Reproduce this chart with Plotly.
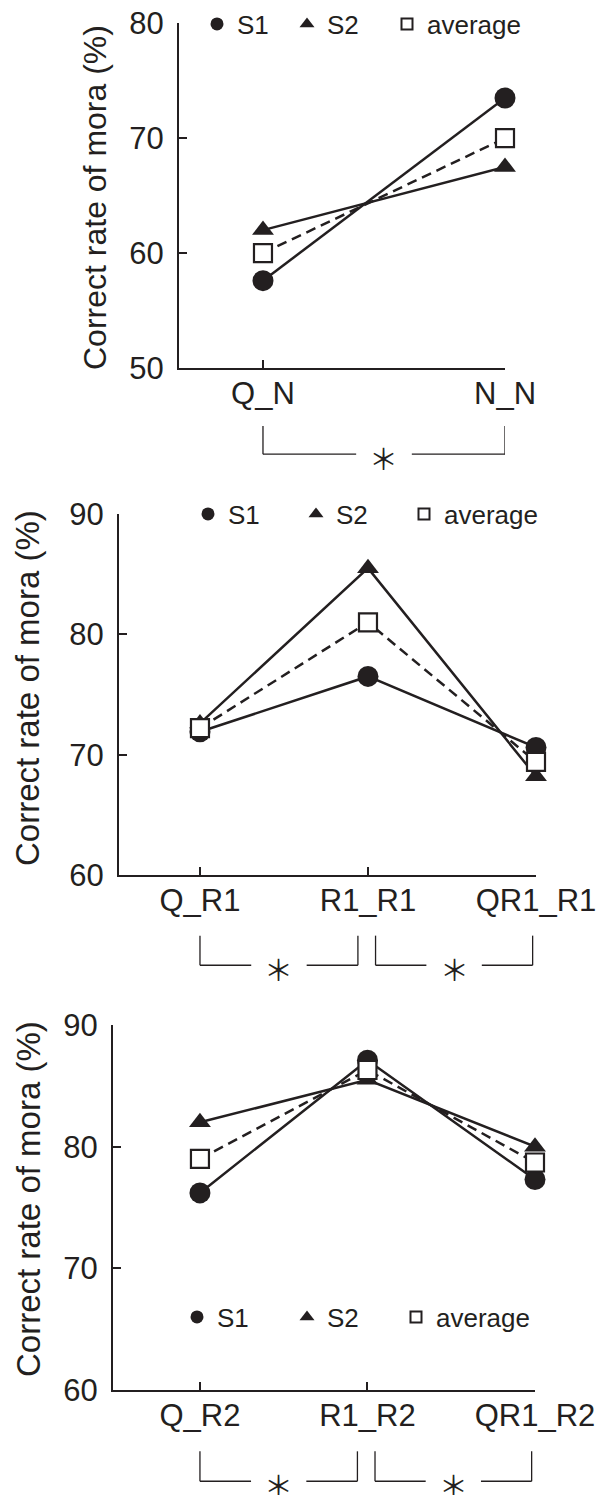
import plotly.graph_objects as go

# ---------------- data ----------------
cats1 = ["Q_N", "N_N"]
s1_p1 = [57.6, 73.5]
s2_p1 = [62.0, 67.5]
avg_p1 = [60.0, 70.0]

cats2 = ["Q_R1", "R1_R1", "QR1_R1"]
s1_p2 = [71.9, 76.5, 70.6]
s2_p2 = [72.6, 85.5, 68.2]
avg_p2 = [72.2, 81.0, 69.4]

cats3 = ["Q_R2", "R1_R2", "QR1_R2"]
s1_p3 = [76.2, 87.1, 77.3]
s2_p3 = [82.0, 85.5, 80.0]
avg_p3 = [79.0, 86.3, 78.7]

yticks_p1 = [50, 60, 70, 80]
yticks_p23 = [60, 70, 80, 90]
series_names = ["S1", "S2", "average"]
sig_p1 = [(0, 1)]
sig_p23 = [(0, 1), (1, 2)]
ytitle = "Correct rate of mora (%)"

# ---------------- style ----------------
W, H = 606, 1495
OFF = 8  # default page body margin
INK = "#231f20"
FONT = "Liberation Sans, Arial, sans-serif"


def px_x(p):
    return (p - OFF) / W


def px_y(p):
    return 1 - (p - OFF) / H


panels = [
    dict(cats=cats1, s1=s1_p1, s2=s2_p1, avg=avg_p1, yticks=yticks_p1, sig=sig_p1,
         xdom=(179, 505), ydom=(23.3, 368), xr=(-0.347, 1.0),
         title_x=95, title_y=198, title_size=32,
         leg_x=197, leg_y=24, leg_w=[45, 55]),
    dict(cats=cats2, s1=s1_p2, s2=s2_p2, avg=avg_p2, yticks=yticks_p23, sig=sig_p23,
         xdom=(119, 536), ydom=(514, 875), xr=(-0.482, 2.0),
         title_x=28, title_y=688, title_size=33,
         leg_x=188, leg_y=514, leg_w=[63, 63]),
    dict(cats=cats3, s1=s1_p3, s2=s2_p3, avg=avg_p3, yticks=yticks_p23, sig=sig_p23,
         xdom=(113, 535), ydom=(1025, 1390), xr=(-0.519, 2.0),
         title_x=28, title_y=1199, title_size=33,
         leg_x=177, leg_y=1317, leg_w=[65, 64]),
]

fig = go.Figure()
layout = dict(width=W, height=H, margin=dict(l=0, r=0, t=0, b=0, autoexpand=False),
              paper_bgcolor="white", plot_bgcolor="white",
              font=dict(family=FONT, color=INK), shapes=[], annotations=[])

for i, p in enumerate(panels):
    k = "" if i == 0 else str(i + 1)
    xa, ya = "x" + k, "y" + k
    leg = "legend" + k
    xs = list(range(len(p["cats"])))

    series = [
        (p["s1"], dict(symbol="circle", size=21, color=INK, line=dict(width=0)), "solid"),
        (p["s2"], dict(symbol="triangle-up", size=19, color=INK, line=dict(width=0)), "solid"),
        (p["avg"], dict(symbol="square", size=18, color="white", line=dict(width=2.2, color=INK)), "10px,6px"),
    ]
    for vals, mk, dash in series:
        fig.add_trace(go.Scatter(x=xs, y=vals, xaxis=xa, yaxis=ya, mode="lines+markers",
                                 line=dict(color=INK, width=2.5, dash=dash), marker=mk,
                                 cliponaxis=False, showlegend=False, hoverinfo="skip"))
    # legend-only entries (markers without lines)
    leg_markers = [
        dict(symbol="circle", size=13, color=INK, line=dict(width=0)),
        dict(symbol="triangle-up", size=13, color=INK, line=dict(width=0)),
        dict(symbol="square", size=11, color="white", line=dict(width=2, color=INK)),
    ]
    for j, (nm, mk) in enumerate(zip(series_names, leg_markers)):
        lw = p["leg_w"][j] if j < len(p["leg_w"]) else None
        fig.add_trace(go.Scatter(x=[None], y=[None], xaxis=xa, yaxis=ya, mode="markers",
                                 marker=mk, name=nm, legend=leg, showlegend=True,
                                 legendwidth=lw, hoverinfo="skip"))

    layout["xaxis" + k] = dict(
        domain=[px_x(p["xdom"][0]), px_x(p["xdom"][1])], anchor=ya, range=list(p["xr"]),
        tickvals=xs, ticktext=p["cats"], showgrid=False, zeroline=False,
        showline=True, linecolor=INK, linewidth=2, ticks="inside", ticklen=8,
        tickwidth=2, tickcolor=INK, tickfont=dict(size=31, family=FONT, color=INK),
        ticklabelstandoff=-3, ticklabeloverflow="allow", fixedrange=True)
    layout["yaxis" + k] = dict(
        domain=[px_y(p["ydom"][1]), px_y(p["ydom"][0])], anchor=xa,
        range=[p["yticks"][0], p["yticks"][-1]], tickvals=p["yticks"], showgrid=False,
        zeroline=False, showline=True, linecolor=INK, linewidth=2, ticks="inside",
        ticklen=8, tickwidth=2, tickcolor=INK,
        tickfont=dict(size=31, family=FONT, color=INK), ticklabelstandoff=7,
        ticklabeloverflow="allow", fixedrange=True)
    layout[leg] = dict(orientation="h", x=px_x(p["leg_x"]), xanchor="left",
                       y=px_y(p["leg_y"]), yanchor="middle", bgcolor="rgba(0,0,0,0)",
                       font=dict(size=26, family=FONT, color=INK), itemsizing="trace",
                       borderwidth=0, tracegroupgap=0)
    layout["annotations"].append(dict(
        text=ytitle, textangle=-90, xref="paper", yref="paper",
        x=px_x(p["title_x"]), y=px_y(p["title_y"]), xanchor="center", yanchor="middle",
        showarrow=False, font=dict(size=p["title_size"], family=FONT, color=INK)))

    # significance brackets
    dom = ya + " domain"
    y_top, y_bot, y_star = -0.168, -0.25, -0.258
    for (a, b) in p["sig"]:
        if len(p["cats"]) == 3:
            xa0 = a + (0.045 if a > 0 else 0.0)
            xb0 = b - (0.06 if b < 2 else 0.02)
            half_gap = 0.165
        else:
            xa0, xb0 = a, b
            half_gap = 0.115
        mid = (xa0 + xb0) / 2
        segs = [
            (xa0, y_top, xa0, y_bot), (xb0, y_top, xb0, y_bot),
            (xa0, y_bot, mid - half_gap, y_bot), (mid + half_gap, y_bot, xb0, y_bot),
        ]
        for (x0, y0, x1, y1) in segs:
            layout["shapes"].append(dict(type="line", xref=xa, yref=dom, x0=x0, y0=y0,
                                         x1=x1, y1=y1, line=dict(color=INK, width=1.3)))
        layout["annotations"].append(dict(
            text="＊", xref=xa, yref=dom, x=mid, y=y_star, xanchor="center",
            yanchor="middle", showarrow=False,
            font=dict(size=29, family="Noto Sans CJK JP", color=INK)))

fig.update_layout(**layout)
fig.write_html("out.html")
